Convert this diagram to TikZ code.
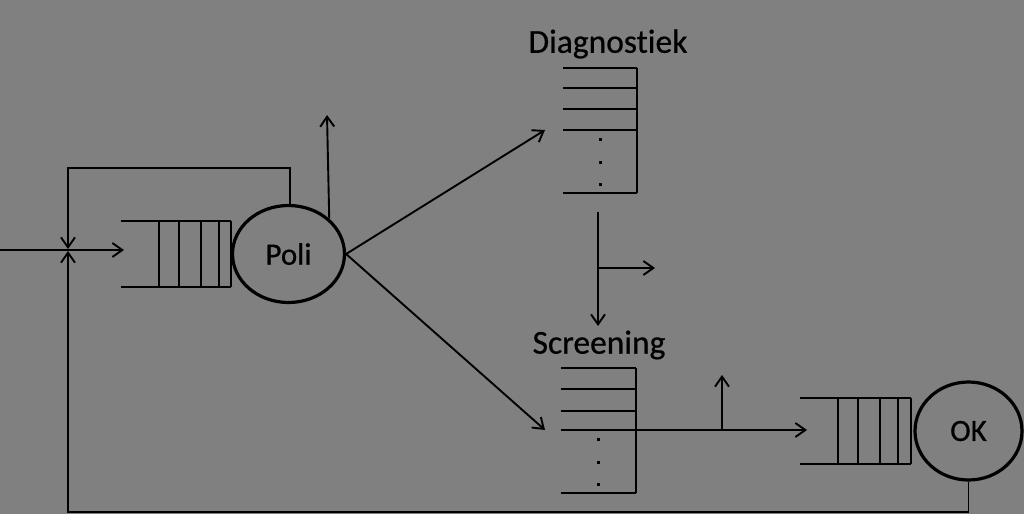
\documentclass[tikz,border=0pt]{standalone}
\usepackage{fontspec}
\setmainfont[Ligatures=NoCommon]{Carlito}
\newfontfamily\lblfont[Ligatures=NoCommon,FakeBold=0.6]{Carlito}
\usetikzlibrary{arrows.meta,shapes.geometric}
\definecolor{bggray}{RGB}{128,128,128}
\begin{document}
\begin{tikzpicture}[x=1pt,y=-1pt,
  conn/.style={line width=1.9pt,black},
  arr/.style={conn,-{Straight Barb[length=10pt,width=14pt,line width=1.9pt]}},
  qline/.style={line width=2.5pt,black},
  server/.style={ellipse,draw,line width=3.2pt,inner sep=0pt,font=\lblfont\fontsize{31}{31}\selectfont},
  lbl/.style={font=\lblfont\fontsize{33.5}{33.5}\selectfont,inner sep=0pt},
  dotmark/.style={fill=black}]
\fill[bggray] (0,0) rectangle (1024,514);
\useasboundingbox (0,0) rectangle (1024,514);

% Poli queue
\draw[qline] (121,221) -- (231,221) (121,287) -- (231,287);
\foreach \x in {159,179,201,219,231} \draw[qline] (\x,221) -- (\x,287);
\node[server,minimum width=112pt,minimum height=97pt] (poli) at (288.5,254) {Poli};

% OK queue
\draw[qline] (800,398) -- (911,398) (800,464) -- (911,464);
\foreach \x in {838,858,880,898,911} \draw[qline] (\x,398) -- (\x,464);
\node[server,minimum width=107pt,minimum height=98pt] (ok) at (968.5,431) {OK};

% Diagnostiek list
\node[lbl] (diaglbl) at (608,44) {Diagnostiek};
\foreach \y in {68,88,109,130,193} \draw[qline] (563,\y) -- (637,\y);
\draw[qline] (637,68) -- (637,193);
\foreach \y in {139,162,184} \fill[dotmark] (598.5,\y-1.5) rectangle (601.5,\y+1.5);
\coordinate (diagin) at (545,130);

% Screening list
\node[lbl] (scrlbl) at (599,345) {Screening};
\foreach \y in {368,389,411,430,493} \draw[qline] (561,\y) -- (636,\y);
\draw[qline] (636,368) -- (636,493);
\foreach \y in {439,462,484} \fill[dotmark] (596.5,\y-1.5) rectangle (599.5,\y+1.5);
\coordinate (scrin) at (545,430);
\coordinate (scrout) at (636,430);

% merge point and input
\coordinate (src) at (0,250);
\coordinate (qin) at (124,250);
\coordinate (mtop) at (68,249);
\coordinate (mbot) at (68,251);
\draw[arr] (src) -- (qin);

% feedback from Poli top
\draw[arr] (poli.north) ++(1.5,0) |- (68,168) -- (mtop);
% departure from Poli
\coordinate (poliup) at (327,115);
\draw[arr] (poli.north east) -- (poliup);
% to Diagnostiek and Screening
\draw[arr] (poli.east) -- (diagin);
\draw[arr] (poli.east) -- (scrin);

% Diagnostiek -> Screening
\coordinate (dtop) at (598,212);
\coordinate (dbot) at (598,326);
\coordinate (dbr) at (598,268);
\coordinate (dbrend) at (655,268);
\draw[arr] (dtop) -- (dbot);
\draw[arr] (dbr) -- (dbrend);

% Screening -> OK
\coordinate (okin) at (807,430);
\coordinate (sbr) at (722,430);
\coordinate (sbrend) at (722,375);
\draw[arr] (scrout) -- (okin);
\draw[arr] (sbr) -- (sbrend);

% feedback from OK
\draw[arr] (ok.south) -- (968.5,512) -| (mbot);
\end{tikzpicture}
\end{document}
